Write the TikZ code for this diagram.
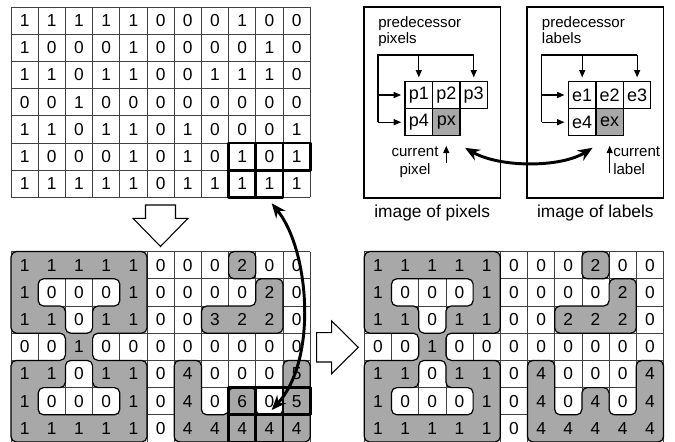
\documentclass[tikz,border=0pt]{standalone}
\usepackage{fontspec}
\setmainfont{Liberation Sans}
\usetikzlibrary{positioning,arrows.meta,backgrounds}

\definecolor{labelgray}{gray}{0.66}

% grey label regions of a labelled image (cell units)
\newcommand{\labelblobs}{%
  \path[region] (2.5,0) -- (5,0) -- (5,3) -- (3,3) -- (3,4) -- (5,4) -- (5,7) -- (0,7) -- (0,4) -- (2,4) -- (2,3) -- (0,3) -- (0,0) -- cycle
    (2.5,1) -- (4,1) -- (4,2) -- (3,2) -- (3,3) -- (2,3) -- (2,2) -- (1,2) -- (1,1) -- cycle
    (2.5,4) -- (3,4) -- (3,5) -- (4,5) -- (4,6) -- (1,6) -- (1,5) -- (2,5) -- (2,4) -- cycle;
  \path[region] (8.5,0) -- (9,0) -- (9,1) -- (8,1) -- (8,0) -- cycle
    (9.5,1) -- (10,1) -- (10,3) -- (7,3) -- (7,2) -- (9,2) -- (9,1) -- cycle;
  \path[region] (6.5,7) -- (6,7) -- (6,4) -- (7,4) -- (7,6) -- (8,6) -- (8,5) -- (9,5) -- (9,6) -- (10,6) -- (10,4) -- (11,4) -- (11,7) -- cycle;
}

\begin{document}
\begin{tikzpicture}[x=0.75pt, y=-0.75pt,
  num/.style={inner sep=0pt, outer sep=0pt, minimum width=20.4pt, minimum height=20.4pt, font=\fontsize{13}{15}\selectfont},
  gridline/.style={draw=black!75, line width=0.5pt},
  region/.style={fill=labelgray, draw=black, line width=0.9pt, rounded corners=4pt, even odd rule},
  window/.style={draw=black, line width=2.2pt, line join=round},
  smallcell/.style={draw, line width=0.9pt, minimum width=20.6pt, minimum height=20.4pt, inner sep=0pt, outer sep=0pt, font=\fontsize{13.5}{15}\selectfont},
  bus/.style={line width=0.9pt},
  arr/.style={line width=0.9pt, -{Triangle[length=5.5pt,width=4.5pt]}},
  bigarr/.style={line width=2.2pt, {Stealth[length=11pt,width=9pt]}-{Stealth[length=11pt,width=9pt]}},
  hollow/.style={draw=black, fill=white, line width=0.8pt},
  caption/.style={font=\fontsize{13}{15}\selectfont, inner sep=0pt},
  note/.style={font=\fontsize{11.3}{12.4}\selectfont, inner sep=0pt, align=left},
  panel/.style={draw, line width=1.1pt, minimum width=102.2pt, minimum height=143.3pt, inner sep=0pt}]

\useasboundingbox (0,0) rectangle (675,442);

% Binary image
\begin{scope}[shift={(11,7)}, x=20.4pt, y=-20.4pt]
  \foreach \vals [count=\r] in {{1,1,1,1,1,0,0,0,1,0,0},{1,0,0,0,1,0,0,0,0,1,0},{1,1,0,1,1,0,0,1,1,1,0},{0,0,1,0,0,0,0,0,0,0,0},{1,1,0,1,1,0,1,0,0,0,1},{1,0,0,0,1,0,1,0,1,0,1},{1,1,1,1,1,0,1,1,1,1,1}}
    \foreach \v [count=\c] in \vals
      \node[num] (t-\r-\c) at (\c-0.5,\r-0.5) {\v};
  \foreach \i in {0,...,11} \draw[gridline] (\i,0) -- (\i,7);
  \foreach \j in {0,...,7} \draw[gridline] (0,\j) -- (11,\j);
  \foreach \c/\r in {8/5,9/5,10/5,8/6,9/6} \draw[window] (\c,\r) rectangle ++(1,1);
\end{scope}

% Labels after first pass
\begin{scope}[shift={(11,251.6)}, x=20.4pt, y=-20.4pt]
  \foreach \vals [count=\r] in {{1,1,1,1,1,0,0,0,2,0,0},{1,0,0,0,1,0,0,0,0,2,0},{1,1,0,1,1,0,0,3,2,2,0},{0,0,1,0,0,0,0,0,0,0,0},{1,1,0,1,1,0,4,0,0,0,5},{1,0,0,0,1,0,4,0,6,0,5},{1,1,1,1,1,0,4,4,4,4,4}}
    \foreach \v [count=\c] in \vals
      \node[num] (l-\r-\c) at (\c-0.5,\r-0.5) {\v};
  \begin{scope}[on background layer]
    \foreach \i in {0,...,11} \draw[gridline] (\i,0) -- (\i,7);
    \foreach \j in {0,...,7} \draw[gridline] (0,\j) -- (11,\j);
    \labelblobs
  \end{scope}
  \foreach \c/\r in {8/5,9/5,10/5,8/6,9/6} \draw[window] (\c,\r) rectangle ++(1,1);
\end{scope}

% Final labels
\begin{scope}[shift={(364.3,251.6)}, x=20.4pt, y=-20.4pt]
  \foreach \vals [count=\r] in {{1,1,1,1,1,0,0,0,2,0,0},{1,0,0,0,1,0,0,0,0,2,0},{1,1,0,1,1,0,0,2,2,2,0},{0,0,1,0,0,0,0,0,0,0,0},{1,1,0,1,1,0,4,0,0,0,4},{1,0,0,0,1,0,4,0,4,0,4},{1,1,1,1,1,0,4,4,4,4,4}}
    \foreach \v [count=\c] in \vals
      \node[num] (f-\r-\c) at (\c-0.5,\r-0.5) {\v};
  \begin{scope}[on background layer]
    \foreach \i in {0,...,11} \draw[gridline] (\i,0) -- (\i,7);
    \foreach \j in {0,...,7} \draw[gridline] (0,\j) -- (11,\j);
    \labelblobs
  \end{scope}
\end{scope}

% Hollow arrows
\draw[hollow] (145.5,205) -- (175.5,205) -- (175.5,218.3) -- (188,218.3) -- (160.5,246.5) -- (133,218.3) -- (145.5,218.3) -- cycle;
\draw[hollow] (316.7,332.7) -- (331.7,332.7) -- (331.7,321) -- (358.3,347.3) -- (331.7,373.6) -- (331.7,362) -- (316.7,362) -- cycle;

% Image of pixels
\node[panel] (pixpanel) at (432.2,102.5) {};
\node[caption, below=4.8pt of pixpanel] (pixcap) {image of pixels};
\node[note, anchor=north west] (pixnote) at (378,16) {predecessor\\pixels};
\node[smallcell] (p1) at (418.8,95) {p1};
\node[smallcell, right=0pt of p1] (p2) {p2};
\node[smallcell, right=0pt of p2] (p3) {p3};
\node[smallcell, below=0pt of p1] (p4) {p4};
\node[smallcell, fill=labelgray, right=0pt of p4] (px) {px};
\coordinate (pbus) at (378,55);
\draw[bus] (pbus |- p4) -- (pbus) -- (pbus -| p3);
\draw[arr, shorten >=3pt] (pbus |- p1) -- (p1);
\draw[arr, shorten >=3pt] (pbus |- p4) -- (p4);
\draw[arr, shorten >=3pt] (pbus -| p1) -- (p1);
\draw[arr, shorten >=3pt] (pbus -| p3) -- (p3);
\node[note, align=center, anchor=base, font=\fontsize{11.3}{14.2}\selectfont] (pixcur) at (415,175) {current\\pixel};
\draw[arr] ([yshift=-20.3pt]px.south) -- ([yshift=-7.5pt]px.south);

% Image of labels
\node[panel] (labpanel) at (595.3,102.5) {};
\node[caption, below=4.8pt of labpanel] (labcap) {image of labels};
\node[note, anchor=north west] (labnote) at (541.7,16) {predecessor\\labels};
\node[smallcell] (e1) at (582.2,95) {e1};
\node[smallcell, right=0pt of e1] (e2) {e2};
\node[smallcell, right=0pt of e2] (e3) {e3};
\node[smallcell, below=0pt of e1] (e4) {e4};
\node[smallcell, fill=labelgray, right=0pt of e4] (ex) {ex};
\coordinate (lbus) at (541.7,55);
\draw[bus] (lbus |- e4) -- (lbus) -- (lbus -| e3);
\draw[arr, shorten >=3pt] (lbus |- e1) -- (e1);
\draw[arr, shorten >=3pt] (lbus |- e4) -- (e4);
\draw[arr, shorten >=3pt] (lbus -| e1) -- (e1);
\draw[arr, shorten >=3pt] (lbus -| e3) -- (e3);
\node[note, anchor=base west, font=\fontsize{11.3}{14.2}\selectfont] (labcur) at (613,175) {current\\label};
\draw[arr] ([yshift=-28pt]ex.south) -- ([yshift=-7.5pt]ex.south);

% Correspondence arrows
\draw[bigarr] ([xshift=3.75pt,yshift=-9pt]px.south east) .. controls +(35,20) and +(-32,20) .. ([xshift=-2.5pt,yshift=-9pt]ex.south west);
\draw[bigarr] ([xshift=1.7pt,yshift=-4.4pt]t-7-10.south) .. controls +(38,47) and +(46,-50) .. ([xshift=1.7pt,yshift=-6.6pt]l-6-10.center);

\end{tikzpicture}
\end{document}
